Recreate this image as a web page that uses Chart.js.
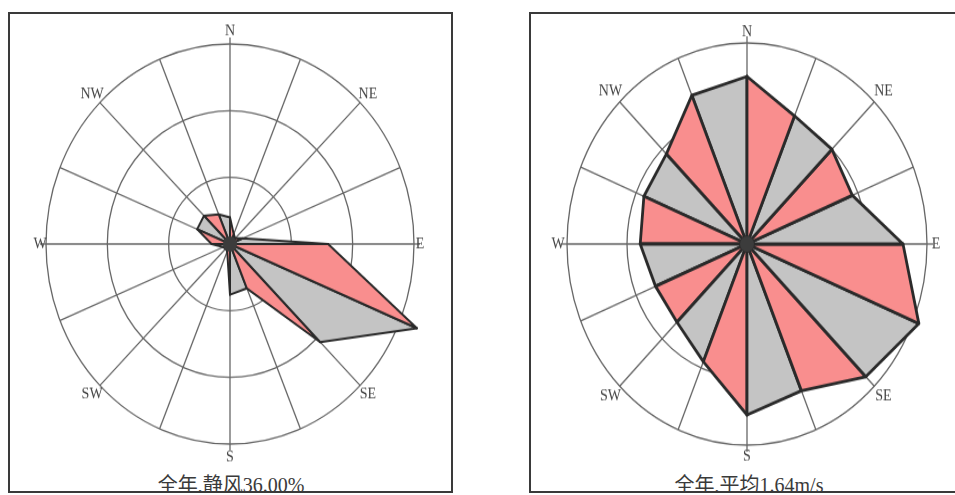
<!DOCTYPE html>
<html>
<head>
<meta charset="utf-8">
<script src="https://cdn.jsdelivr.net/npm/chart.js@4.4.1/dist/chart.umd.min.js"></script>
<style>
  html, body { margin: 0; padding: 0; background: #fff; width: 955px; height: 495px; overflow: hidden; }
  .panel { position: absolute; top: 12px; height: 481px; border: 2px solid #3a3a3a; box-sizing: border-box; overflow: hidden; background: #fff; }
  .rose { position: absolute; top: 22px; width: 444px; height: 444px; transform-origin: 222px 222px; }
  .caption { position: absolute; top: 461px; font: 20px/20px "Liberation Serif", "Noto Sans CJK SC", serif; color: #3a3a3a; white-space: nowrap; transform: translateX(-50%); }
</style>
</head>
<body>
<div class="panel" style="left:8px; width:445px;"><div class="caption" id="capL" style="left:221px;"></div></div>
<div class="panel" style="left:529px; width:440px;"><div class="caption" id="capR" style="left:218px;"></div></div>
<div class="rose" style="left:8px; transform: scaleY(1.087);"><canvas id="roseL"></canvas></div>
<div class="rose" style="left:525px; transform: scaleY(1.117);"><canvas id="roseR"></canvas></div>
<script>
// 16 compass sectors, clockwise from north
const directions = ['N', 'NNE', 'NE', 'ENE', 'E', 'ESE', 'SE', 'SSE', 'S', 'SSW', 'SW', 'WSW', 'W', 'WNW', 'NW', 'NNW'];
const shownLabels = ['N', '', 'NE', '', 'E', '', 'SE', '', 'S', '', 'SW', '', 'W', '', 'NW', ''];

// left rose: wind direction frequency (%), rings 5/10/15
const freqPct = [2.0, 0.8, 0.6, 1.1, 8.0, 16.5, 10.4, 3.6, 3.8, 0.6, 0.5, 0.6, 1.5, 2.9, 3.0, 2.4];
const freqRings = [5, 10, 15];
const captionLeft = '全年,静风36.00%';

// right rose: mean wind speed per direction (m/s), rings 1/2/3
const speedMs = [2.5, 2.07, 2.0, 1.9, 2.6, 3.1, 2.8, 2.37, 2.55, 1.9, 1.65, 1.65, 1.78, 1.86, 1.9, 2.4];
const speedRings = [1, 2, 3];
const captionRight = '全年,平均1.64m/s';

const PINK = '#f98e8e';
const GREY = '#c4c4c4';
const GRID = '#666';

document.getElementById('capL').textContent = captionLeft;
document.getElementById('capR').textContent = captionRight;

// one triangle per sector: centre -> value i -> value i+1, alternating colours
function wedges(values, lw) {
  return values.map((v, i) => {
    const j = (i + 1) % values.length;
    return {
      label: directions[i],
      data: values.map((x, k) => (k === i || k === j) ? x : 0),
      backgroundColor: i % 2 === 0 ? PINK : GREY,
      borderColor: '#2a2a2a',
      borderWidth: lw,
      borderJoinStyle: 'round',
      fill: true,
      pointRadius: 0,
      pointHoverRadius: 0,
      clip: false
    };
  });
}

const roseDecor = {
  id: 'roseDecor',
  afterDraw(chart, args, opts) {
    const s = chart.scales.r, ctx = chart.ctx, R = s.drawingArea;
    ctx.save();
    ctx.strokeStyle = GRID;
    ctx.lineWidth = 1.3;
    [0, 4, 8, 12].forEach(i => {
      const a = s.getPointPosition(i, R), b = s.getPointPosition(i, R + opts.axisExt);
      ctx.beginPath(); ctx.moveTo(a.x, a.y); ctx.lineTo(b.x, b.y); ctx.stroke();
    });
    ctx.fillStyle = '#3c3c3c';
    ctx.beginPath(); ctx.arc(s.xCenter, s.yCenter, 7, 0, Math.PI * 2); ctx.fill();

    ctx.font = '14px "Liberation Serif", serif';
    ctx.fillStyle = '#444';
    ctx.textAlign = 'center';
    ctx.textBaseline = 'middle';
    chart.data.labels.forEach((lab, i) => {
      if (!lab) return;
      let gap = opts.gapDiag;
      if (i % 8 === 0) gap = opts.gapNS;
      else if (i % 4 === 0) gap = opts.gapEW;
      const p = s.getPointPosition(i, R + gap);
      ctx.fillText(lab, p.x, p.y);
    });
    ctx.restore();
  }
};

function makeRose(id, values, rings, pad, lw, decor) {
  return new Chart(document.getElementById(id), {
    type: 'radar',
    data: { labels: shownLabels, datasets: wedges(values, lw) },
    options: {
      responsive: true,
      maintainAspectRatio: false,
      animation: false,
      layout: { padding: pad },
      plugins: { legend: { display: false }, tooltip: { enabled: false }, roseDecor: decor },
      elements: { line: { tension: 0 } },
      scales: {
        r: {
          min: 0,
          max: rings[rings.length - 1],
          startAngle: 0,
          ticks: { display: false, stepSize: rings[0] },
          grid: { circular: true, color: GRID, lineWidth: 1.3 },
          angleLines: { color: GRID, lineWidth: 1.3 },
          pointLabels: { display: false }
        }
      }
    },
    plugins: [roseDecor]
  });
}

makeRose('roseL', freqPct, freqRings, 38, 2, { axisExt: 6, gapNS: 12, gapEW: 6, gapDiag: 11 });
makeRose('roseR', speedMs, speedRings, 42, 2.8, { axisExt: 6, gapNS: 10, gapEW: 9, gapDiag: 13 });
</script>
</body>
</html>
